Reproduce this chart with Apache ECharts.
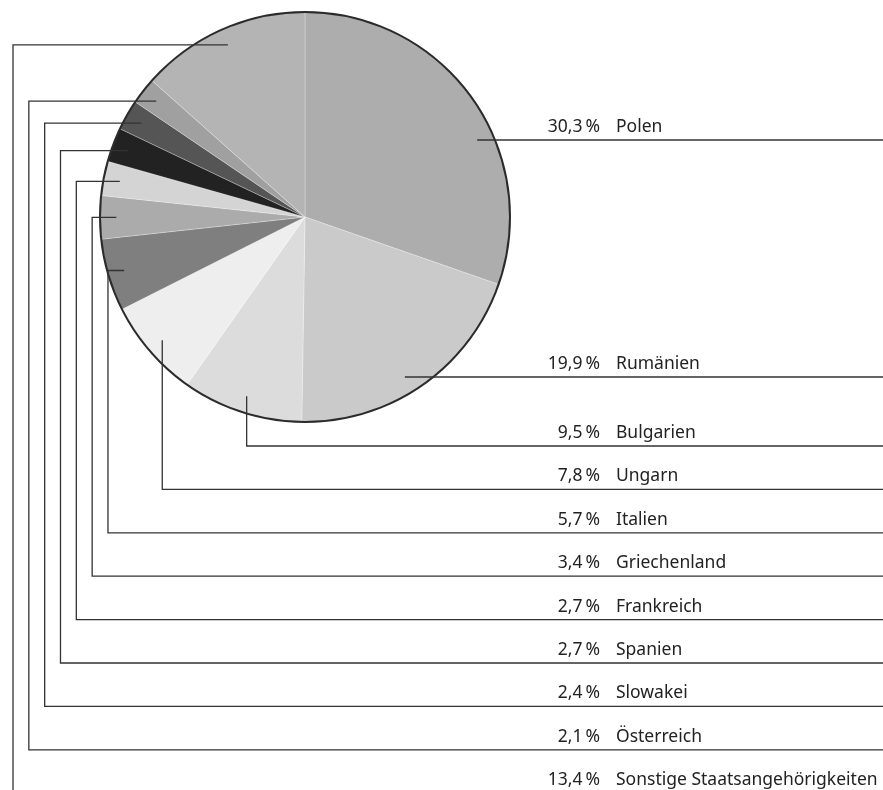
<!DOCTYPE html>
<html>
<head>
<meta charset="utf-8">
<script src="https://cdn.jsdelivr.net/npm/echarts@6/dist/echarts.min.js"></script>
<style>
  html, body { margin: 0; padding: 0; background: #fff; }
  #chart { width: 883px; height: 790px; }
</style>
</head>
<body>
<div id="chart"></div>
<script>
// Anteile nach Staatsangehörigkeit (in %)
const countries = ['Polen', 'Rumänien', 'Bulgarien', 'Ungarn', 'Italien', 'Griechenland',
  'Frankreich', 'Spanien', 'Slowakei', 'Österreich', 'Sonstige Staatsangehörigkeiten']
const shares = [30.3, 19.9, 9.5, 7.8, 5.7, 3.4, 2.7, 2.7, 2.4, 2.1, 13.4]

const palette = ['#adadad', '#cacaca', '#dcdcdc', '#eeeeee', '#7f7f7f', '#ababab',
  '#d4d4d4', '#222222', '#555555', '#a0a0a0', '#b4b4b4']

// layout
const W = 883
const cx = 305
const cy = 217
const R = 205
const anchorR = R * 0.92
const fontStr = '17.5px "Noto Sans", "Open Sans", sans-serif'
const lineColor = '#333'

const chart = echarts.init(document.getElementById('chart'))

const fmt = v => v.toFixed(1).replace('.', ',') + '\u2009%'

// label rows: first two sit beside the pie, the rest are stacked below
const rowY = i => (i === 0 ? 140 : i === 1 ? 377 : 446 + (i - 2) * 43.4)
const colX = i => 13 + (countries.length - 1 - i) * 15.83

const total = shares.reduce((a, b) => a + b, 0)
const graphics = []
let acc = 0
shares.forEach((v, i) => {
  const mid = ((acc + v / 2) / total) * 2 * Math.PI // angle from 12 o'clock, clockwise
  acc += v
  const ax = cx + anchorR * Math.sin(mid)
  const ay = cy - anchorR * Math.cos(mid)
  const y = rowY(i)
  let pts
  if (mid < Math.PI) {
    // right side: straight line at row height
    const dy = y - cy
    const sx = cx + Math.sqrt(Math.max(anchorR * anchorR - dy * dy, 0))
    pts = [[sx, y], [W, y]]
  } else if (mid < Math.PI * 1.34) {
    // bottom: drop straight down
    pts = [[ax, ay], [ax, y], [W, y]]
  } else {
    const x = colX(i)
    pts = [[ax, ay], [x, ay], [x, y], [W, y]]
  }
  graphics.push({
    type: 'polyline',
    z: 100,
    silent: true,
    shape: { points: pts },
    style: { stroke: lineColor, lineWidth: 1.3, fill: null }
  })
  graphics.push({
    type: 'text',
    z: 100,
    x: 600,
    y: y - 13,
    style: { text: fmt(v), font: fontStr, fill: '#222', align: 'right', verticalAlign: 'middle' }
  })
  graphics.push({
    type: 'text',
    z: 100,
    x: 616,
    y: y - 13,
    style: { text: countries[i], font: fontStr, fill: '#222', align: 'left', verticalAlign: 'middle' }
  })
})

const option = {
  animation: false,
  color: palette,
  series: [
    {
      type: 'pie',
      center: [cx, cy],
      radius: R,
      startAngle: 90,
      clockwise: true,
      label: { show: false },
      labelLine: { show: false },
      itemStyle: { borderColor: 'rgba(255,255,255,0.45)', borderWidth: 0.6 },
      emphasis: { disabled: true },
      data: countries.map((name, i) => ({ name, value: shares[i] }))
    },
    {
      // outer ring
      type: 'pie',
      center: [cx, cy],
      radius: R,
      silent: true,
      z: 3,
      label: { show: false },
      labelLine: { show: false },
      itemStyle: { color: 'rgba(0,0,0,0)', borderColor: '#2b2b2b', borderWidth: 2 },
      data: [{ value: 1 }]
    }
  ],
  graphic: { elements: graphics }
}

chart.setOption(option)
</script>
</body>
</html>
